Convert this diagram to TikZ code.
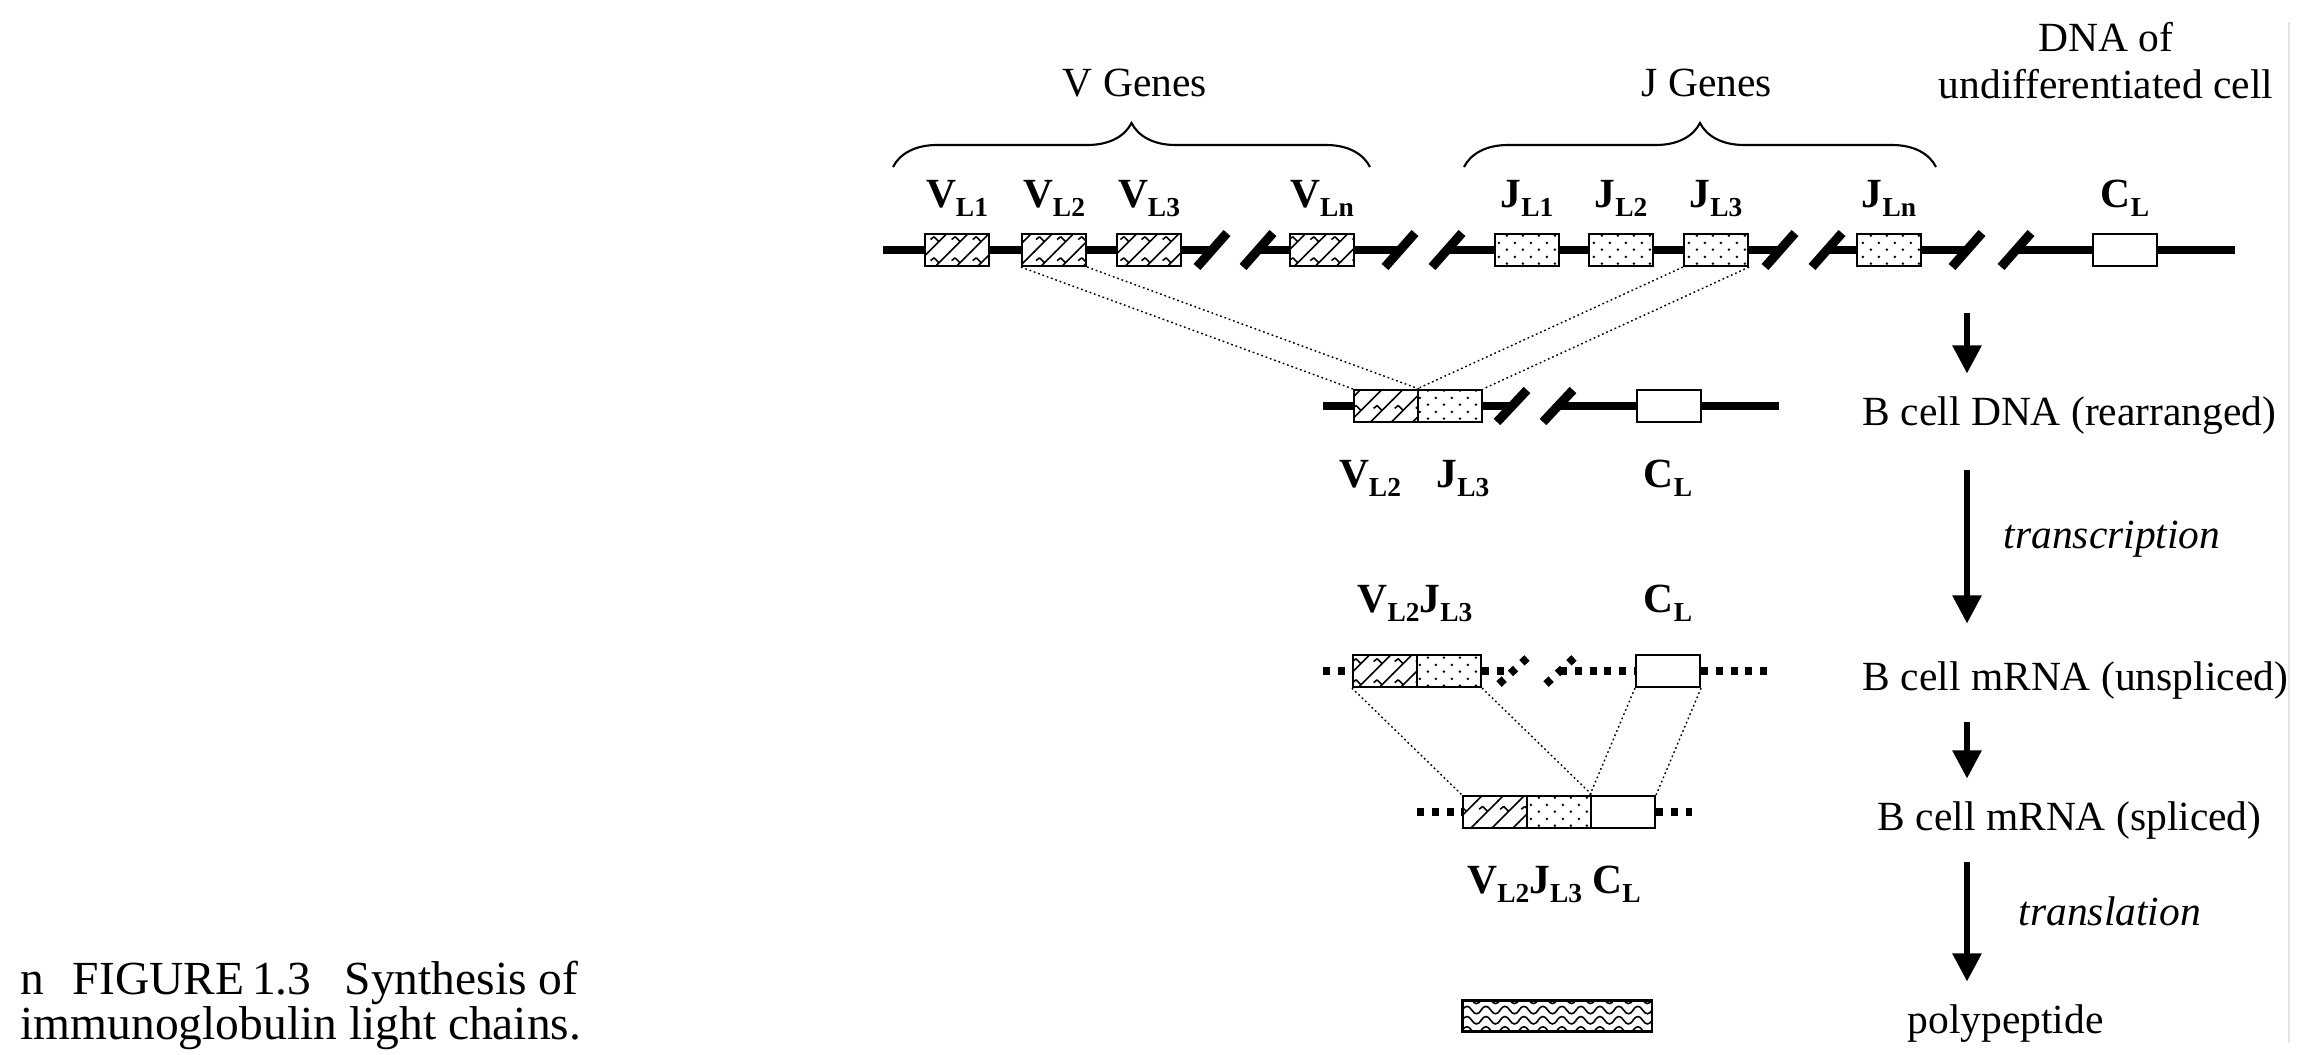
\documentclass[tikz,border=0pt]{standalone}
\usepackage{fontspec}
\setmainfont{Liberation Serif}
\usetikzlibrary{arrows.meta,patterns,decorations.pathreplacing}

% fills of the gene segments
\pgfdeclarepatternformonly{vhatch}{\pgfqpoint{-1pt}{-1pt}}{\pgfqpoint{7pt}{7pt}}{\pgfqpoint{6pt}{6pt}}{%
  \pgfsetlinewidth{0.45pt}%
  \pgfpathmoveto{\pgfqpoint{-0.1pt}{-0.1pt}}\pgfpathlineto{\pgfqpoint{6.1pt}{6.1pt}}%
  \pgfpathmoveto{\pgfqpoint{3pt}{3pt}}\pgfpathlineto{\pgfqpoint{1.6pt}{4.4pt}}%
  \pgfpathmoveto{\pgfqpoint{0.6pt}{3.6pt}}\pgfpathlineto{\pgfqpoint{1.6pt}{4.4pt}}%
  \pgfusepath{stroke}}
\pgfdeclarepatternformonly{jdots}{\pgfqpoint{0pt}{0pt}}{\pgfqpoint{4.5pt}{4pt}}{\pgfqpoint{4.5pt}{4pt}}{%
  \pgfpathcircle{\pgfqpoint{1.125pt}{1pt}}{0.4pt}%
  \pgfpathcircle{\pgfqpoint{3.375pt}{3pt}}{0.4pt}%
  \pgfusepath{fill}}
\pgfdeclarepatternformonly{pwave}{\pgfqpoint{-0.5pt}{-0.5pt}}{\pgfqpoint{5.9pt}{3.4pt}}{\pgfqpoint{5.4pt}{2.9pt}}{%
  \pgfsetlinewidth{0.45pt}%
  \pgfpathmoveto{\pgfqpoint{-0.05pt}{0.9pt}}%
  \pgfpathcurveto{\pgfqpoint{0.9pt}{2.3pt}}{\pgfqpoint{1.8pt}{2.3pt}}{\pgfqpoint{2.7pt}{0.9pt}}%
  \pgfpathcurveto{\pgfqpoint{3.6pt}{-0.5pt}}{\pgfqpoint{4.5pt}{-0.5pt}}{\pgfqpoint{5.45pt}{0.9pt}}%
  \pgfusepath{stroke}}

\newcommand{\genelab}[2]{\textbf{#1}\raisebox{-2.8pt}{\fontsize{7.8pt}{8pt}\selectfont\bfseries #2}}

\tikzset{
  dna/.style={line width=2.3pt},
  rna/.style={line width=2.2pt, dash pattern=on 2pt off 2.2pt},
  brk/.style={line width=2.6pt},
  rnabrk/.style={line width=2.2pt, dash pattern=on 1.99pt off 2.45pt},
  gene/.style={draw, line width=0.6pt, minimum width=0.64cm, minimum height=0.32cm, inner sep=0pt},
  vgene/.style={gene, pattern=vhatch},
  jgene/.style={gene, pattern=jdots},
  cgene/.style={gene},
  link/.style={line width=0.4pt, dash pattern=on 0.5pt off 0.8pt},
  brace/.style={decorate, decoration={brace, amplitude=0.44cm}, line width=0.6pt},
  flow/.style={line width=1.6pt, -{Triangle[width=8pt,length=8pt]}, shorten >=0.22cm, shorten <=0.22cm},
  txt/.style={font=\fontsize{11.8pt}{13.3pt}\selectfont, inner sep=0pt},
  lbl/.style={font=\fontsize{11.8pt}{13.3pt}\selectfont, inner sep=0pt, anchor=base},
}

\begin{document}
\begin{tikzpicture}[x=0.01cm,y=-0.01cm]
\useasboundingbox (0,0) rectangle (2318,1054);

% Headings
\node[txt, anchor=base] (vg) at (1135,96) {V Genes};
\node[txt, anchor=base] (jg) at (1707,96) {J Genes};
\node[txt, anchor=north, align=center] (udna) at (2106,22) {DNA of\\undifferentiated cell};
\coordinate (bv1) at (893,167);
\coordinate (bv2) at (1370,167);
\coordinate (bj1) at (1464,167);
\coordinate (bj2) at (1936,167);
\draw[brace] (bv1) -- (bv2);
\draw[brace] (bj1) -- (bj2);

% Germline DNA
\coordinate (s0) at (883,250);
\coordinate (k1) at (1212,250);
\coordinate (k2) at (1258,250);
\coordinate (k3) at (1400,250);
\coordinate (k4) at (1447,250);
\coordinate (k5) at (1780,250);
\coordinate (k6) at (1827,250);
\coordinate (k7) at (1967,250);
\coordinate (k8) at (2016,250);
\coordinate (e0) at (2235,250);
\node[vgene] (v1) at (957,250) {};
\node[vgene] (v2) at (1054,250) {};
\node[vgene] (v3) at (1149,250) {};
\node[vgene] (vn) at (1322,250) {};
\node[jgene] (j1) at (1527,250) {};
\node[jgene] (j2) at (1621,250) {};
\node[jgene] (j3) at (1716,250) {};
\node[jgene] (jn) at (1889,250) {};
\node[cgene] (c) at (2125,250) {};
\node[lbl] (lv1) at (957,207) {\genelab{V}{L1}};
\node[lbl] (lv2) at (1054,207) {\genelab{V}{L2}};
\node[lbl] (lv3) at (1149,207) {\genelab{V}{L3}};
\node[lbl] (lvn) at (1322,207) {\genelab{V}{Ln}};
\node[lbl] (lj1) at (1527,207) {\genelab{J}{L1}};
\node[lbl] (lj2) at (1621,207) {\genelab{J}{L2}};
\node[lbl] (lj3) at (1716,207) {\genelab{J}{L3}};
\node[lbl] (ljn) at (1889,207) {\genelab{J}{Ln}};
\node[lbl] (lc) at (2125,207) {\genelab{C}{L}};
\draw[dna] (s0) -- (v1) -- (v2) -- (v3) -- (k1);
\draw[dna] (k2) -- (vn) -- (k3);
\draw[dna] (k4) -- (j1) -- (j2) -- (j3) -- (k5);
\draw[dna] (k6) -- (jn) -- (k7);
\draw[dna] (k8) -- (c) -- (e0);
\draw[brk] (k1) ++(-15,17) -- ++(30,-34);
\draw[brk] (k2) ++(-15,17) -- ++(30,-34);
\draw[brk] (k3) ++(-15,17) -- ++(30,-34);
\draw[brk] (k4) ++(-15,17) -- ++(30,-34);
\draw[brk] (k5) ++(-15,17) -- ++(30,-34);
\draw[brk] (k6) ++(-15,17) -- ++(30,-34);
\draw[brk] (k7) ++(-15,17) -- ++(30,-34);
\draw[brk] (k8) ++(-15,17) -- ++(30,-34);

% Rearranged DNA
\coordinate (r0) at (1323,406);
\coordinate (r1) at (1512,406);
\coordinate (r2) at (1558,406);
\coordinate (r3) at (1779,406);
\node[vgene] (rv) at (1386,406) {};
\node[jgene] (rj) at (1450,406) {};
\node[cgene] (rc) at (1669,406) {};
\node[lbl] (lrv) at (1370,487) {\genelab{V}{L2}};
\node[lbl] (lrj) at (1463,487) {\genelab{J}{L3}};
\node[lbl] (lrc) at (1668,487) {\genelab{C}{L}};
\draw[dna] (r0) -- (rv);
\draw[dna] (rj) -- (r1);
\draw[dna] (r2) -- (rc) -- (r3);
\draw[brk] (r1) ++(-15,16) -- ++(30,-32);
\draw[brk] (r2) ++(-15,16) -- ++(30,-32);
\draw[link] (v2.south west) -- (rv.north west);
\draw[link] (v2.south east) -- (rv.north east);
\draw[link] (j3.south west) -- (rj.north west);
\draw[link] (j3.south east) -- (rj.north east);

% Unspliced mRNA
\coordinate (u0) at (1323,671);
\coordinate (q1) at (1513,671);
\coordinate (q2) at (1560,671);
\coordinate (u3) at (1770,671);
\node[vgene] (uv) at (1385,671) {};
\node[jgene] (uj) at (1449,671) {};
\node[cgene] (uc) at (1668,671) {};
\node[lbl] (luvj) at (1415,612) {\genelab{V}{L2}\genelab{J}{L3}};
\node[lbl] (luc) at (1668,612) {\genelab{C}{L}};
\draw[rna] (u0) -- (uv);
\draw[rna] (uj) -- (q1);
\draw[rna] (q2) -- (uc);
\draw[rna] (uc) -- (u3);
\draw[rnabrk] (q1) ++(-14,13) -- ++(28,-26);
\draw[rnabrk] (q2) ++(-14,13) -- ++(28,-26);

% Spliced mRNA
\coordinate (p0) at (1417,812);
\coordinate (p3) at (1692,812);
\node[vgene] (sv) at (1495,812) {};
\node[jgene] (sj) at (1559,812) {};
\node[cgene] (sc) at (1623,812) {};
\node[lbl] (lsp) at (1554,893) {\genelab{V}{L2}\genelab{J}{L3} \genelab{C}{L}};
\draw[rna] (p0) -- (sv);
\draw[rna] (sc) -- (p3);
\draw[link] (uv.south west) -- (sv.north west);
\draw[link] (uj.south east) -- (sj.north east);
\draw[link] (uc.south west) -- (sc.north west);
\draw[link] (uc.south east) -- (sc.north east);

% Polypeptide
\node[gene, pattern=pwave, minimum width=1.89cm, minimum height=0.31cm] (pp) at (1557,1016) {};

% Stages
\coordinate (ax) at (1967,0);
\coordinate (a0) at (1967,313);
\node[txt, anchor=base west] (rearr) at (1862,425) {B cell DNA (rearranged)};
\node[txt, anchor=base west] (unspl) at (1862,690) {B cell mRNA (unspliced)};
\node[txt, anchor=base west] (spl) at (1877,830) {B cell mRNA (spliced)};
\node[txt, anchor=base west] (poly) at (1907,1033) {polypeptide};
\node[txt, anchor=base west, font=\fontsize{11.8pt}{13.3pt}\selectfont\itshape] (trs) at (2003,548) {transcription};
\node[txt, anchor=base west, font=\fontsize{11.8pt}{13.3pt}\selectfont\itshape] (trl) at (2018,925) {translation};
\draw[flow, shorten <=0pt] (a0) -- (rearr.north -| ax);
\draw[flow, shorten <=0.35cm, shorten >=0.37cm] (rearr.south -| ax) -- (unspl.north -| ax);
\draw[flow] (unspl.south -| ax) -- (spl.north -| ax);
\draw[flow] (spl.south -| ax) -- (poly.north -| ax);

% Page edge
\coordinate (g1) at (2289,22);
\coordinate (g2) at (2289,1043);
\draw[gray!20, line width=0.4pt] (g1) -- (g2);

% Caption
\node[anchor=north west, align=left, inner sep=0pt, font=\fontsize{13.5pt}{12.8pt}\selectfont] (cap) at (20,960) {n\hspace{0.6em}FIGURE\,1.3\hspace{0.7em}Synthesis of\\immunoglobulin light chains.};
\end{tikzpicture}
\end{document}
